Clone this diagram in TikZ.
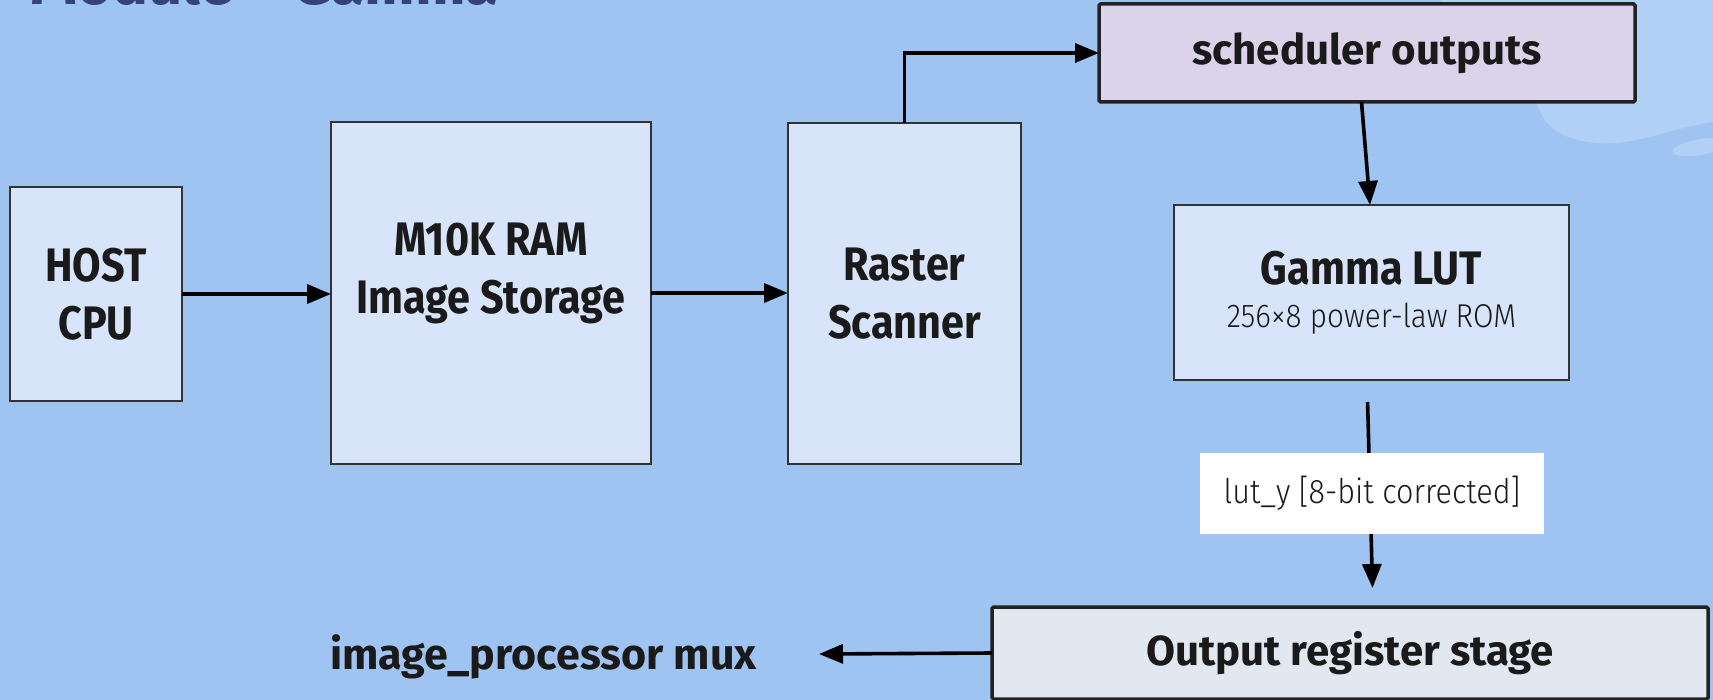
\documentclass[tikz,border=0pt]{standalone}
\usepackage{fontspec}
\setmainfont{Fira Sans}
\newfontfamily\boxfont[FakeStretch=0.88]{Fira Sans}
\newfontfamily\lightfont[FakeStretch=0.9]{Fira Sans Light}
\usetikzlibrary{arrows.meta,calc}
\definecolor{bgc}{HTML}{A0C4F2}
\definecolor{blobc}{HTML}{B0D0F5}
\definecolor{boxc}{HTML}{D8E4FA}
\definecolor{schedc}{HTML}{DAD3EA}
\definecolor{outc}{HTML}{E2E8F0}
\definecolor{titlec}{HTML}{34437A}
\definecolor{txtc}{HTML}{1A1A1A}
\definecolor{edgec}{HTML}{333333}
\definecolor{thickc}{HTML}{222222}
\begin{document}
\begin{tikzpicture}[x=1pt,y=-1pt,
  box/.style={draw=edgec, line width=1.5pt, fill=boxc, inner sep=0pt, outer sep=0pt,
    anchor=north west, align=center, text=txtc,
    font=\boxfont\bfseries\fontsize{47}{58}\selectfont},
  boxtext/.style={inner sep=0pt, align=center, text=txtc,
    font=\boxfont\bfseries\fontsize{47}{58}\selectfont},
  thickbox/.style={draw=thickc, line width=3.5pt, rounded corners=1.5pt, inner sep=0pt,
    outer sep=0pt, anchor=north west, align=center, text=txtc,
    font=\bfseries\fontsize{42}{42}\selectfont},
  arr/.style={draw=black, line width=3.6pt, -{Triangle[length=24pt,width=19pt]}}
]
\fill[bgc] (0,0) rectangle (1713,700);
\useasboundingbox (0,0) rectangle (1713,700);
% decorative light shapes
\fill[blobc] (1440,0) -- (1713,0) -- (1713,122)
  .. controls (1670,128) and (1640,145) .. (1600,143)
  .. controls (1560,141) and (1542,125) .. (1536,100)
  .. controls (1522,60) and (1465,30) .. (1440,0) -- cycle;
\fill[blobc, rotate around={10:(1700,147)}] (1700,147) ellipse [x radius=28, y radius=8];
% title
\node[anchor=base west, inner sep=0pt, text=titlec,
  font=\bfseries\fontsize{60}{60}\selectfont] (title) at (30,5) {Module – Gamma};
% blocks
\node[box, minimum width=172pt, minimum height=214pt] (host) at (10,187) {HOST\\CPU};
\node[box, minimum width=320pt, minimum height=342pt] (ram) at (331,122) {};
\node[boxtext] (ramtxt) at ([yshift=20pt]ram.center) {M10K RAM\\Image Storage};
\node[box, minimum width=233pt, minimum height=341pt] (raster) at (788,123) {Raster\\Scanner};
\node[thickbox, fill=schedc, minimum width=536pt, minimum height=98pt] (sched) at (1099,4) {scheduler outputs};
\node[box, minimum width=395pt, minimum height=175pt,
  font=\lightfont\fontsize{33}{43}\selectfont] (gamma) at (1174,205)
  {{\boxfont\bfseries\fontsize{47}{43}\selectfont Gamma LUT}\\256×8 power-law ROM};
\node[thickbox, fill=outc, minimum width=716pt, minimum height=92pt] (out) at (992,607) {Output register stage};
\node[anchor=base west, inner sep=0pt, text=txtc,
  font=\bfseries\fontsize{43}{43}\selectfont] (mux) at (330,669) {image\_processor mux};
\coordinate (muxin) at (819,654);
% connectors
\draw[arr] (host.east) -- (host.east -| ram.west);
\draw[arr] (ram.east) -- (ram.east -| raster.west);
\draw[arr] (raster.north) |- (sched.west);
\draw[arr] ([xshift=-5.5pt]sched.south) -- ([xshift=-1.5pt]gamma.north);
\draw[arr, shorten <=22pt, shorten >=19pt] ([xshift=-4.5pt]gamma.south) -- ([xshift=23pt]out.north);
\node[fill=white, minimum width=344pt, minimum height=81pt, inner sep=0pt, text=txtc,
  font=\lightfont\fontsize{34}{34}\selectfont] (lab) at (1372,493.5) {lut\_y [8-bit corrected]};
\draw[arr] (out.west) -- (muxin);
\end{tikzpicture}
\end{document}
